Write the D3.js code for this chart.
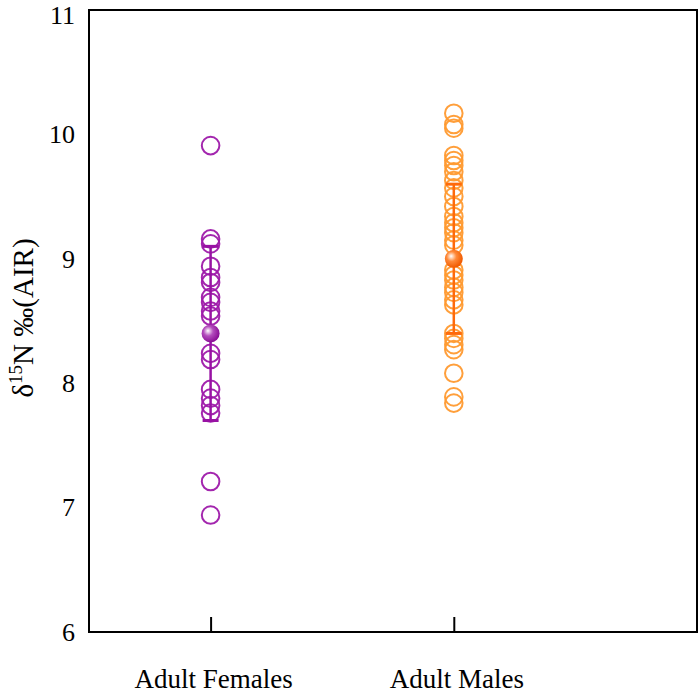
<!DOCTYPE html>
<html><head><meta charset="utf-8">
<script src="https://cdn.jsdelivr.net/npm/d3@7"></script>
<style>body{margin:0;background:#fff}svg{display:block}text{font-family:"Liberation Serif","Times New Roman",serif}</style>
</head><body>
<svg id="c" width="700" height="693"></svg>
<script>
const categories = ["Adult Females", "Adult Males"];
const catPos = [1, 3];
const femaleValues = [9.91, 9.16, 9.12, 8.94, 8.85, 8.81, 8.69, 8.65, 8.58, 8.54, 8.24, 8.19, 7.95, 7.88, 7.82, 7.76, 7.21, 6.94];
const maleValues = [10.17, 10.08, 10.05, 9.83, 9.79, 9.75, 9.70, 9.63, 9.57, 9.50, 9.42, 9.34, 9.29, 9.25, 9.21, 9.15, 9.11, 8.91, 8.87, 8.83, 8.77, 8.73, 8.67, 8.63, 8.40, 8.36, 8.31, 8.27, 8.08, 7.89, 7.84];
const means = [8.40, 9.00];
const sds = [0.70, 0.60];
const yTicks = [6, 7, 8, 9, 10, 11];

const svg = d3.select("#c");
const L = 89, R = 697, T = 10, B = 632;
const x = d3.scaleLinear().domain([0, 5]).range([L, R]);
const y = d3.scaleLinear().domain([6, 11]).range([B, T]);

const circColors = ["#9e1aaa", "#ff9a30"];
const barColors = ["#9812a3", "#ff6a0a"];
const series = [femaleValues, maleValues];

const defs = svg.append("defs");
[["g0", "#ffffff", "#b34dbd", "#8a0f96"], ["g1", "#ffffff", "#ff8a3a", "#f05a00"]].forEach(([id, a, b, c]) => {
  const g = defs.append("radialGradient").attr("id", id).attr("cx", "40%").attr("cy", "40%").attr("r", "60%").attr("fx", "35%").attr("fy", "35%");
  g.append("stop").attr("offset", "0%").attr("stop-color", a);
  g.append("stop").attr("offset", "45%").attr("stop-color", b);
  g.append("stop").attr("offset", "100%").attr("stop-color", c);
});

// y axis tick labels
svg.append("g").attr("transform", `translate(${L},0)`)
  .call(d3.axisLeft(y).tickValues(yTicks).tickSize(0).tickPadding(14).tickFormat(d3.format("d")))
  .call(g => g.select(".domain").remove())
  .selectAll("text").attr("font-size", 26).attr("fill", "#000").attr("font-family", "Liberation Serif")
  .attr("dy", d => d === 11 ? "0.5em" : "0.32em");

// x axis ticks (inward)
svg.append("g").attr("transform", `translate(0,${B})`)
  .call(d3.axisTop(x).tickValues(catPos).tickSize(15).tickFormat(""))
  .call(g => g.select(".domain").remove())
  .selectAll("line").attr("stroke", "#000").attr("stroke-width", 2);

// category labels
svg.append("g").selectAll("text").data(categories).join("text")
  .attr("x", (d, i) => x(catPos[i]) + 3).attr("y", 688)
  .attr("text-anchor", "middle").attr("font-size", 27).attr("fill", "#000").text(d => d);

// points
series.forEach((vals, i) => {
  svg.append("g").selectAll("circle").data(vals).join("circle")
    .attr("cx", x(catPos[i])).attr("cy", d => y(d)).attr("r", 8.8)
    .attr("fill", "none").attr("stroke", circColors[i]).attr("stroke-width", 2).attr("stroke-opacity", 0.95);
});

// error bars and means
means.forEach((m, i) => {
  const cx = x(catPos[i]);
  const g = svg.append("g").attr("stroke", barColors[i]).attr("stroke-width", 2.5);
  g.append("line").attr("x1", cx).attr("x2", cx).attr("y1", y(m + sds[i])).attr("y2", y(m - sds[i]));
  [m + sds[i], m - sds[i]].forEach(v => g.append("line").attr("x1", cx - 8).attr("x2", cx + 8).attr("y1", y(v)).attr("y2", y(v)).attr("stroke-width", 3));
  svg.append("circle").attr("cx", cx).attr("cy", y(m)).attr("r", 9).attr("fill", `url(#g${i})`);
});

// frame
svg.append("rect").attr("x", L).attr("y", T).attr("width", R - L).attr("height", B - T)
  .attr("fill", "none").attr("stroke", "#000").attr("stroke-width", 2);

// y label
const yl = svg.append("text").attr("transform", `translate(33,${(T + B) / 2 - 3}) rotate(-90)`)
  .attr("text-anchor", "middle").attr("font-size", 29).attr("fill", "#000");
yl.append("tspan").text("δ");
yl.append("tspan").attr("font-size", 19).attr("dy", -11).text("15");
yl.append("tspan").attr("dy", 11).text("N ‰(AIR)");
</script>
</body></html>
